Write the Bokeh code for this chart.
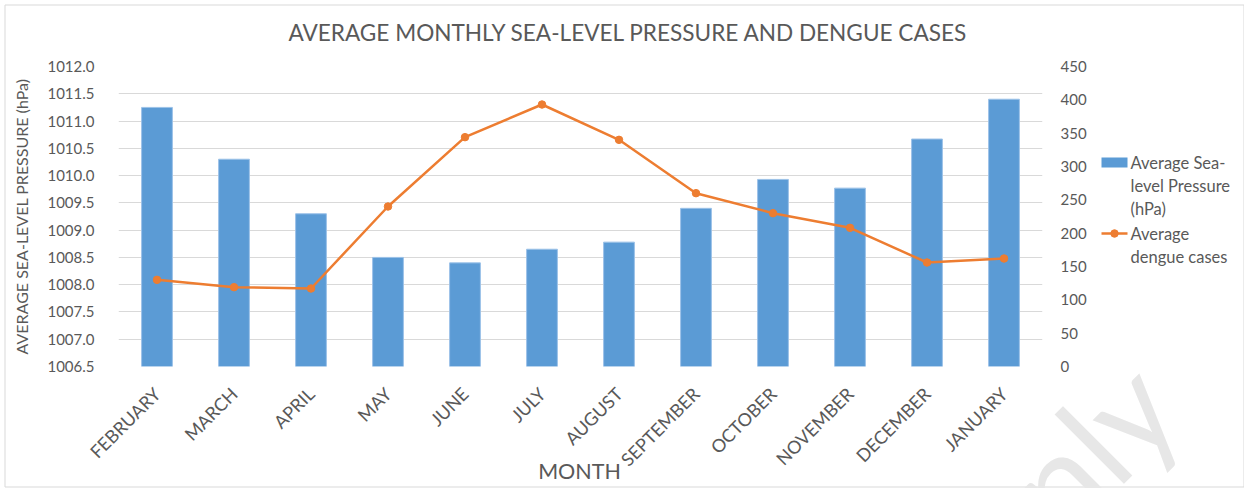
from bokeh.plotting import figure
from bokeh.models import (ColumnDataSource, FactorRange, Range1d, LinearAxis, FixedTicker,
                          NumeralTickFormatter, Row, Column)
from bokeh.core.properties import value
from bokeh.embed import file_html
from bokeh.resources import INLINE
from math import pi

months = ["FEBRUARY", "MARCH", "APRIL", "MAY", "JUNE", "JULY", "AUGUST",
          "SEPTEMBER", "OCTOBER", "NOVEMBER", "DECEMBER", "JANUARY"]
pressure = [1011.25, 1010.3, 1009.3, 1008.5, 1008.4, 1008.65, 1008.78,
            1009.4, 1009.93, 1009.77, 1010.67, 1011.4]
dengue = [130, 119, 117, 240, 344, 393, 340, 260, 230, 208, 156, 162]
left_ticks = [1006.5, 1007.0, 1007.5, 1008.0, 1008.5, 1009.0, 1009.5,
              1010.0, 1010.5, 1011.0, 1011.5, 1012.0]
right_ticks = [0, 50, 100, 150, 200, 250, 300, 350, 400, 450]
title_text = "AVERAGE MONTHLY SEA-LEVEL PRESSURE AND DENGUE CASES"
legend_bar = ["Average Sea-", "level Pressure", "(hPa)"]
legend_line = ["Average", "dengue cases"]

BLUE = "#5B9BD5"
ORANGE = "#ED7D31"
TXT = "#595959"
GRID = "#D9D9D9"
FONT = "Lato"
W, H = 1244, 488

src = ColumnDataSource(dict(month=months, pressure=pressure, dengue=dengue,
                            base=[left_ticks[0]] * len(months)))

p = figure(x_range=FactorRange(*months, range_padding=0),
           y_range=Range1d(left_ticks[0], left_ticks[-1]),
           frame_width=924, frame_height=300,
           min_border_left=118, min_border_right=202,
           min_border_top=66, min_border_bottom=122,
           output_backend="svg", toolbar_location=None)
p.outline_line_color = None

p.extra_y_ranges = {"cases": Range1d(right_ticks[0], right_ticks[-1])}

bars = p.vbar(x="month", top="pressure", bottom="base", width=0.4, source=src,
              fill_color=BLUE, line_color="#9CC2E8", line_width=1)
line = p.line(x="month", y="dengue", source=src, y_range_name="cases",
              line_color=ORANGE, line_width=2.5)
dots = p.scatter(x="month", y="dengue", source=src, y_range_name="cases",
                 size=7.5, fill_color=ORANGE, line_color=ORANGE)

# left axis
ax = p.yaxis[0]
ax.ticker = FixedTicker(ticks=left_ticks)
ax.formatter = NumeralTickFormatter(format="0.0")
ax.axis_line_color = None
ax.major_tick_line_color = None
ax.minor_tick_line_color = None
ax.major_label_standoff = 18
ax.major_label_text_font = FONT
ax.major_label_text_font_size = "15px"
ax.major_label_text_color = TXT
ax.axis_label = "AVERAGE SEA-LEVEL PRESSURE (hPa)"
ax.axis_label_text_font = FONT
ax.axis_label_text_font_size = "16px"
ax.axis_label_text_font_style = "normal"
ax.axis_label_text_color = TXT
ax.axis_label_standoff = 13

# right axis
rax = LinearAxis(y_range_name="cases", ticker=FixedTicker(ticks=right_ticks))
rax.axis_line_color = None
rax.major_tick_line_color = None
rax.minor_tick_line_color = None
rax.major_label_standoff = 12
rax.major_label_text_font = FONT
rax.major_label_text_font_size = "15px"
rax.major_label_text_color = TXT
p.add_layout(rax, "right")

# x axis
xa = p.xaxis[0]
xa.axis_line_color = None
xa.major_tick_line_color = None
xa.minor_tick_line_color = None
xa.major_label_orientation = pi / 4
xa.major_label_standoff = 18
xa.major_label_text_font = FONT
xa.major_label_text_font_size = "18px"
xa.major_label_text_color = TXT

p.xgrid.visible = False
p.ygrid.ticker = FixedTicker(ticks=left_ticks)
p.ygrid.grid_line_color = GRID
p.ygrid.grid_line_width = 1

# transparent overlay of the same size, pulled up over the chart
ov = figure(width=W, height=H, x_range=Range1d(0, W), y_range=Range1d(H, 0),
            min_border=0, x_axis_type=None, y_axis_type=None,
            output_backend="svg", toolbar_location=None)
ov.grid.visible = False
ov.outline_line_color = None
ov.background_fill_color = None
ov.border_fill_color = None

# chart border
ov.quad(left=[4.5], right=[W - 0.5], top=[4.5], bottom=[H - 1.5],
        fill_color=None, line_color="#D9D9D9", line_width=1)

# title
ov.text(x=[628], y=[32], text=[title_text], text_font=value(FONT),
        text_font_size="22.6px", text_color=TXT, text_align="center",
        text_baseline="middle")

# x-axis title
ov.text(x=[579], y=[470], text=["MONTH"], text_font=value(FONT),
        text_font_size="21.5px", text_color=TXT, text_align="center",
        text_baseline="middle")

# legend
ov.quad(left=[1101], right=[1127], top=[157], bottom=[167],
        fill_color=BLUE, line_color=None)
ov.text(x=[1130] * 3, y=[162, 185, 208], text=legend_bar, text_font=value(FONT),
        text_font_size="16.5px", text_color=TXT, text_align="left",
        text_baseline="middle")
ov.segment(x0=[1101], y0=[233], x1=[1127], y1=[233], line_color=ORANGE, line_width=2.5)
ov.scatter(x=[1114], y=[233], size=7.5, fill_color=ORANGE, line_color=ORANGE)
ov.text(x=[1130] * 2, y=[233, 256], text=legend_line, text_font=value(FONT),
        text_font_size="16.5px", text_color=TXT, text_align="left",
        text_baseline="middle")

# faint watermark fragment visible in the source image
ov.text(x=[1052], y=[482], text=["Only"], angle=pi / 4, text_font=value(FONT),
        text_font_size="133px", text_color="#E7E7E7", text_align="center",
        text_baseline="middle")

wrap = Row(children=[ov], spacing=0)
wrap.styles = {"margin-top": f"-{H}px"}
layout = Column(children=[p, wrap], spacing=0)

open("out.html", "w").write(file_html(layout, INLINE))
